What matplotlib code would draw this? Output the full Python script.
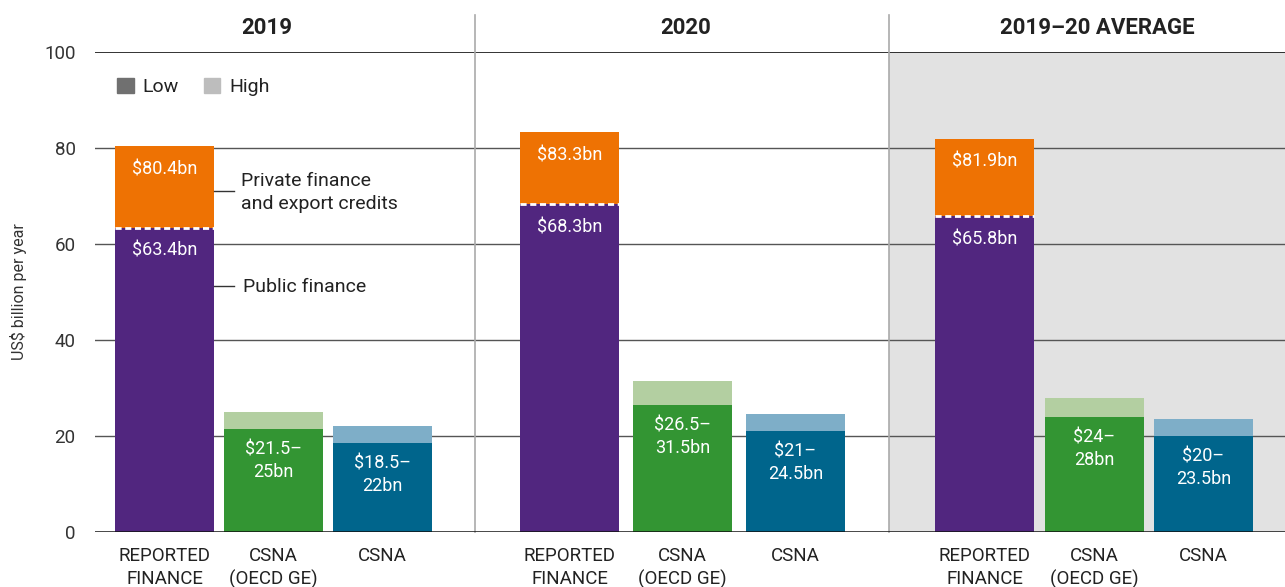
import matplotlib
matplotlib.use("Agg")
import matplotlib.pyplot as plt
from matplotlib.patches import Patch
import numpy as np

plt.rcParams['font.family'] = ['Roboto', 'DejaVu Sans']

# --- data ---
groups = ['2019', '2020', '2019\u201320 AVERAGE']
categories = ['REPORTED\nFINANCE', 'CSNA\n(OECD GE)', 'CSNA']
public_fin = [63.4, 68.3, 65.8]
total_fin = [80.4, 83.3, 81.9]
oecd_low = [21.5, 26.5, 24.0]
oecd_high = [25.0, 31.5, 28.0]
csna_low = [18.5, 21.0, 20.0]
csna_high = [22.0, 24.5, 23.5]
oecd_lbl = ['$21.5\u2013\n25bn', '$26.5\u2013\n31.5bn', '$24\u2013\n28bn']
csna_lbl = ['$18.5\u2013\n22bn', '$21\u2013\n24.5bn', '$20\u2013\n23.5bn']

# --- style ---
c_pub = '#51267f'
c_priv = '#ee7203'
c_oecd = '#339533'
c_oecd_hi = '#b3cfa1'
c_csna = '#00658c'
c_csna_hi = '#7eaec8'
txtc = '#222222'

# layout (x units ~ pixels from left of axes)
group_start = [69.5, 474.5, 889.5]
bar_step = [109, 113, 109.5]
bar_w = 99
seps = [380, 794]
xmax = 1190

fig = plt.figure(figsize=(12.85, 5.87), dpi=100)
ax = fig.add_axes([95/1285, 55/587, 1190/1285, 480/587])
ax.set_xlim(0, xmax)
ax.set_ylim(0, 100)

# grey average panel
ax.axvspan(seps[1], xmax, ymin=0, ymax=1, color='#e2e2e2', zorder=0, lw=0)

# gridlines
for yv in [20, 40, 60, 80]:
    ax.axhline(yv, color='#555555', lw=1.0, zorder=1)
ax.axhline(100, color='#111111', lw=1.2, zorder=1)
ax.axhline(0, color='#111111', lw=1.8, zorder=4)

# separators
for s in seps:
    ax.plot([s, s], [0, 107.7], color='#aaaaaa', lw=1.2, clip_on=False, zorder=1)

lbl_kw = dict(ha='center', va='top', color='white', fontsize=13, linespacing=1.3, zorder=5)

for g in range(3):
    xs = [group_start[g] + i*bar_step[g] for i in range(3)]
    # reported finance
    ax.bar(xs[0], public_fin[g], width=bar_w, color=c_pub, zorder=3, lw=0)
    ax.bar(xs[0], total_fin[g]-public_fin[g], bottom=public_fin[g], width=bar_w,
           color=c_priv, zorder=3, lw=0)
    ax.plot([xs[0]-bar_w/2, xs[0]+bar_w/2], [public_fin[g]]*2, color='white', lw=2,
            ls=(0, (2.2, 1.3)), zorder=4, solid_capstyle='butt')
    ax.text(xs[0], total_fin[g]-2.9, '$%.1fbn' % total_fin[g], **lbl_kw)
    ax.text(xs[0], public_fin[g]-2.9, '$%.1fbn' % public_fin[g], **lbl_kw)
    # CSNA (OECD GE)
    ax.bar(xs[1], oecd_low[g], width=bar_w, color=c_oecd, zorder=3, lw=0)
    ax.bar(xs[1], oecd_high[g]-oecd_low[g], bottom=oecd_low[g], width=bar_w,
           color=c_oecd_hi, zorder=3, lw=0)
    ax.text(xs[1], oecd_low[g]-2.4, oecd_lbl[g], **lbl_kw)
    # CSNA
    ax.bar(xs[2], csna_low[g], width=bar_w, color=c_csna, zorder=3, lw=0)
    ax.bar(xs[2], csna_high[g]-csna_low[g], bottom=csna_low[g], width=bar_w,
           color=c_csna_hi, zorder=3, lw=0)
    ax.text(xs[2], csna_low[g]-2.4, csna_lbl[g], **lbl_kw)
    # category labels
    for i in range(3):
        ax.text(xs[i], -3.2, categories[i], ha='center', va='top', fontsize=13.5,
                color=txtc, linespacing=1.3, clip_on=False)
    # group title
    ax.text(xs[1] + (-7 if g == 0 else 3), 105.1, groups[g], ha='center', va='center',
            fontsize=16, fontweight='bold', color=txtc, clip_on=False)

# annotations for 2019 reported finance
xr = group_start[0] + bar_w/2
ax.plot([xr, xr+20], [71.0, 71.0], color='#333333', lw=1, zorder=4)
ax.text(xr+27, 70.8, 'Private finance\nand export credits', ha='left', va='center',
        fontsize=14, color=txtc, linespacing=1.35)
ax.plot([xr, xr+20], [51.2, 51.2], color='#333333', lw=1, zorder=4)
ax.text(xr+29, 51.0, 'Public finance', ha='left', va='center', fontsize=14, color=txtc)

# legend
handles = [Patch(color='#707070', label='Low'), Patch(color='#bdbdbd', label='High')]
leg = ax.legend(handles=handles, loc='center left', bbox_to_anchor=(0.0185, 0.927),
                ncol=2, frameon=False, fontsize=14, handlelength=0.85, handleheight=0.85,
                handletextpad=0.45, columnspacing=1.3, borderpad=0, borderaxespad=0)
for t in leg.get_texts():
    t.set_color(txtc)

# axes
ax.set_xticks([])
ax.set_yticks([0, 20, 40, 60, 80, 100])
ax.tick_params(axis='y', length=0, labelsize=13.5, labelcolor='#333333', pad=14)
for sp in ax.spines.values():
    sp.set_visible(False)
ax.set_ylabel('US$ billion per year', fontsize=11.5, color='#333333', labelpad=12)

fig.savefig('out.png', dpi=100)
